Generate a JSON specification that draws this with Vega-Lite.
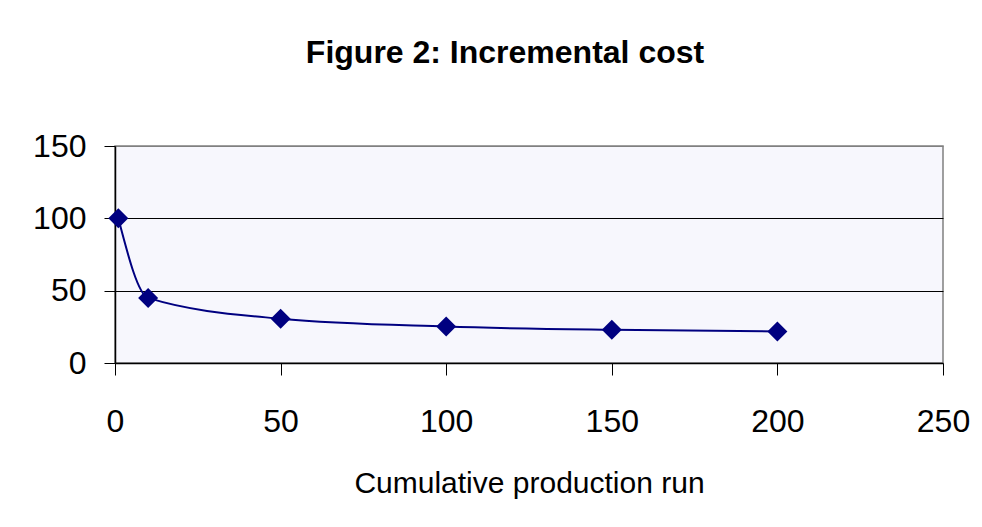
{
  "$schema": "https://vega.github.io/schema/vega-lite/v6.json",
  "autosize": "none",
  "width": 828,
  "height": 217,
  "padding": {"left": 115, "top": 146, "right": 39, "bottom": 164},
  "background": "white",
  "title": {
    "text": "Figure 2: Incremental cost",
    "font": "Liberation Sans",
    "fontSize": 32,
    "fontWeight": "bold",
    "color": "black",
    "anchor": "middle",
    "baseline": "alphabetic",
    "dx": -24,
    "offset": 35
  },
  "data": {
    "values": [
      {"run": 1, "cost": 100},
      {"run": 10, "cost": 45},
      {"run": 50, "cost": 30.6},
      {"run": 100, "cost": 25.2},
      {"run": 150, "cost": 22.9},
      {"run": 200, "cost": 21.8}
    ]
  },
  "encoding": {
    "x": {
      "field": "run",
      "type": "quantitative",
      "scale": {"domain": [0, 250], "nice": false},
      "axis": {
        "title": "Cumulative production run",
        "values": [0, 50, 100, 150, 200, 250],
        "grid": false,
        "domainColor": "black",
        "domainWidth": 1.5,
        "tickColor": "black",
        "tickSize": 12,
        "labelPadding": 31,
        "labelFont": "Liberation Sans",
        "labelFontSize": 32,
        "labelColor": "black",
        "labelFlush": false,
        "titleFont": "Liberation Sans",
        "titleFontSize": 30,
        "titleFontWeight": "normal",
        "titleColor": "black",
        "titleBaseline": "alphabetic",
        "titleY": 129.5
      }
    },
    "y": {
      "field": "cost",
      "type": "quantitative",
      "scale": {"domain": [0, 150], "nice": false},
      "axis": {
        "title": null,
        "values": [0, 50, 100, 150],
        "grid": true,
        "gridColor": {"condition": {"test": "datum.value == 150 || datum.value == 0", "value": "#808080"}, "value": "black"},
        "gridWidth": 1,
        "domainColor": "black",
        "domainWidth": 1.5,
        "tickColor": "black",
        "tickSize": 11,
        "labelPadding": 18,
        "labelFont": "Liberation Sans",
        "labelFontSize": 32,
        "labelColor": "black",
        "labelFlush": false
      }
    }
  },
  "layer": [
    {
      "mark": {"type": "line", "interpolate": "monotone", "color": "#000080", "strokeWidth": 2}
    },
    {
      "mark": {"type": "point", "shape": "diamond", "filled": true, "size": 400, "color": "#000080", "opacity": 1}
    }
  ],
  "config": {
    "view": {"stroke": "#808080", "strokeWidth": 1.5, "fill": "#f7f7fd"}
  }
}
